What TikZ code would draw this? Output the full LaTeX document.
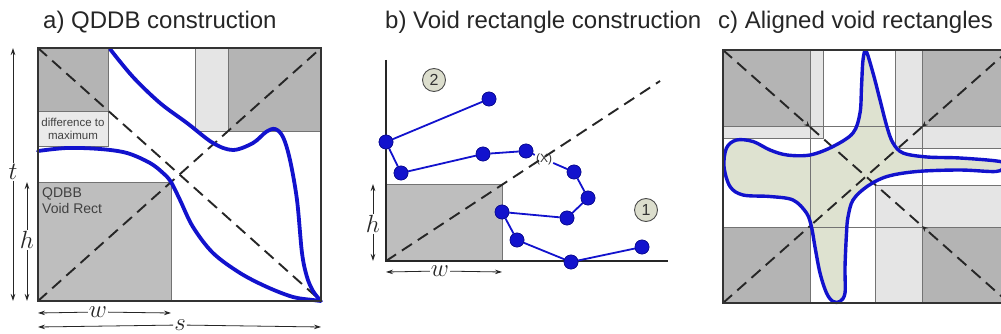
\documentclass[tikz,border=0pt]{standalone}
\usepackage{fontspec}
\setmainfont{Liberation Sans}
\usetikzlibrary{arrows.meta}
\definecolor{dg}{RGB}{180,180,180}
\definecolor{qd}{RGB}{190,190,190}
\definecolor{lg}{RGB}{229,229,229}
\definecolor{cb}{RGB}{18,18,205}
\definecolor{blobc}{RGB}{222,226,208}
\definecolor{circc}{RGB}{220,222,205}
\begin{document}
\begin{tikzpicture}[x=1pt,y=-1pt,
  title/.style={anchor=base west,font=\fontsize{24}{28}\selectfont,text=black!85,inner sep=0pt},
  frame/.style={draw=black!80,line width=2pt},
  cell/.style={draw=black!55,line width=0.8pt},
  diag/.style={dash pattern=on 12pt off 7pt,line width=1.9pt,draw=black!85},
  curve/.style={draw=cb,line width=3.8pt,line cap=round,line join=round},
  dimarrow/.style={-{Stealth[length=7pt,width=4.5pt]},line width=0.8pt,draw=black!85},
  mathlab/.style={font=\fontsize{24}{24}\selectfont,inner sep=1pt,text=black!85},
  dot/.style={circle,draw=cb!70!black,fill=cb,minimum size=14pt,inner sep=0pt,line width=0.6pt},
  link/.style={draw=cb,line width=1.8pt},
  numc/.style={circle,draw=black!70,fill=circc,minimum size=23pt,inner sep=0pt,line width=0.9pt,font=\fontsize{16}{16}\selectfont,text=black!80},
  smalltxt/.style={font=\fontsize{11.5}{13}\selectfont,text=black!75,align=center,inner sep=0pt},
]
\useasboundingbox[fill=white] (0,0) rectangle (1001,334);

% ---------------- titles
\node[title] (ta) at (43,29) {a) QDDB construction};
\node[title] (tb) at (385,29) {b) Void rectangle construction};
\node[title] (tc) at (718,29) {c) Aligned void rectangles};

% ---------------- panel a
\fill[dg] (38,48) rectangle (108,111);
\fill[lg] (195,48) rectangle (228,131);
\fill[dg] (228,48) rectangle (321,131);
\fill[qd] (38,182) rectangle (171,301);
\node[draw=black!55,line width=0.8pt,fill=lg!80!white,minimum width=70pt,minimum height=35pt,inner sep=0pt] (diffbox) at (73,128.5) {};
\node[smalltxt] (difftxt) at (73,129) {difference to\\maximum};
\draw[cell] (38,111) -- (108,111) -- (108,48);
\draw[cell] (195,48) -- (195,131) -- (321,131);
\draw[cell] (228,48) -- (228,131);
\draw[cell] (38,182) -- (171,182) -- (171,301);
\node[anchor=north west,font=\fontsize{14}{16}\selectfont,text=black!75,align=left,inner sep=0pt] (qdbb) at (42,188) {QDBB\\Void Rect};
\draw[diag] (38,48) -- (321,301);
\draw[diag] (38,301) -- (321,48);
\draw[curve] plot[smooth,tension=0.55] coordinates {(110,49) (133,77) (160,103) (187,123) (213,143) (233,150) (253,143) (266,132) (275,129) (283,137) (290,160) (297,200) (302,253) (307,277) (313,291) (320,300)};
\draw[curve] plot[smooth,tension=0.55] coordinates {(38,151) (67,148) (100,149) (127,153) (150,163) (163,173) (171,182) (180,200) (193,227) (213,253) (240,273) (267,287) (293,297) (313,300) (321,301)};
\draw[frame] (38,48) rectangle (321,301);
% dimensions a
\node[mathlab] (ta_t) at (13,172) {$t$};
\coordinate (ta_top) at (13,48);
\coordinate (ta_bot) at (13,301);
\draw[dimarrow] (ta_t) -- (ta_top);
\draw[dimarrow] (ta_t) -- (ta_bot);
\node[mathlab] (ta_h) at (27,240) {$h$};
\coordinate (ha_top) at (27,182);
\coordinate (ha_bot) at (27,301);
\draw[dimarrow] (ta_h) -- (ha_top);
\draw[dimarrow] (ta_h) -- (ha_bot);
\node[mathlab] (ta_w) at (98,312) {$w$};
\coordinate (wa_l) at (38,313);
\coordinate (wa_r) at (171,313);
\draw[dimarrow] (ta_w) -- (wa_l);
\draw[dimarrow] (ta_w) -- (wa_r);
\node[mathlab] (ta_s) at (180,325) {$s$};
\coordinate (sa_l) at (38,327);
\coordinate (sa_r) at (321,327);
\draw[dimarrow] (ta_s) -- (sa_l);
\draw[dimarrow] (ta_s) -- (sa_r);

% ---------------- panel b
\fill[qd] (386,184) rectangle (502,261);
\draw[cell] (386,184) -- (502,184) -- (502,261);
\draw[diag] (386,261) -- (660,81);
\draw[line width=2pt,draw=black!85] (386,60) -- (386,261) -- (668,261);
\node[mathlab] (tb_h) at (373,224) {$h$};
\coordinate (hb_top) at (373,184);
\coordinate (hb_bot) at (373,261);
\draw[dimarrow] (tb_h) -- (hb_top);
\draw[dimarrow] (tb_h) -- (hb_bot);
\node[mathlab] (tb_w) at (440,271) {$w$};
\coordinate (wb_l) at (386,272);
\coordinate (wb_r) at (502,272);
\draw[dimarrow] (tb_w) -- (wb_l);
\draw[dimarrow] (tb_w) -- (wb_r);
\node[numc] (n2) at (434,80) {2};
\node[numc] (n1) at (646,210) {1};
\node[font=\fontsize{12}{12}\selectfont,text=black!80,inner sep=1pt] (X) at (544,159) {(X)};
\node[dot] (A) at (489,99) {};
\node[dot] (B) at (386,142) {};
\node[dot] (C) at (401,173) {};
\node[dot] (D) at (483,154) {};
\node[dot] (E) at (526,151) {};
\node[dot] (F) at (574,172) {};
\node[dot] (G) at (588,198) {};
\node[dot] (H) at (567,218) {};
\node[dot] (I) at (502,212) {};
\node[dot] (J) at (517,240) {};
\node[dot] (K) at (571,262) {};
\node[dot] (L) at (642,247) {};
\draw[link] (A) -- (B) -- (C) -- (D) -- (E) -- (X) -- (F) -- (G) -- (H) -- (I) -- (J) -- (K) -- (L);
\foreach \p in {A,B,C,D,E,F,G,H,I,J,K,L} \node[dot] at (\p) {};

% ---------------- panel c
\fill[lg] (723,50) rectangle (823,138);
\fill[dg] (723,50) rectangle (810,126.5);
\fill[lg] (895,50) rectangle (1009,148);
\fill[dg] (922,50) rectangle (1009,126.5);
\fill[lg] (875,185) rectangle (1009,303);
\fill[dg] (922,227) rectangle (1009,303);
\fill[dg] (723,227) rectangle (810,303);
\fill[blobc] plot[smooth cycle,tension=0.55] coordinates {(866,51) (873,73) (880,100) (887,127) (893,143) (903,153) (927,157) (960,158) (1000,161.5) (1004,166.5) (996,171.5) (960,170) (917,171.5) (887,176.5) (867,186.5) (853,200) (848,217) (846.5,233) (845,267) (845,293) (840,301.5) (833,301.5) (826.5,293) (820,273) (815,247) (811.5,227) (806.5,213) (793,200) (770,196.5) (743,195) (730,186.5) (724,166.5) (726.5,148) (736.5,140) (753,141.5) (770,150) (787,155) (810,155) (833,146.5) (853,133) (860,113) (861.5,87) (863,60)};
\draw[cell] (810,50) -- (810,303);
\draw[cell] (922,50) -- (922,303);
\draw[cell] (723,126.5) -- (1009,126.5);
\draw[cell] (723,227) -- (1009,227);
\draw[cell] (823,50) -- (823,138) -- (723,138);
\draw[cell] (895,50) -- (895,148) -- (1009,148);
\draw[cell] (875,303) -- (875,185) -- (1009,185);
\coordinate (ctl) at (723,50);
\coordinate (ctr) at (1009,50);
\coordinate (cbl) at (723,303);
\coordinate (cbr) at (1009,303);
\coordinate (cc) at (866,176.5);
\coordinate (dtl) at (810,127);
\coordinate (dtr) at (922,127);
\coordinate (dbl) at (810,226);
\coordinate (dbr) at (922,226);
\draw[diag,-{Stealth[length=6pt,width=5pt]}] (ctl) -- (dtl);
\draw[diag,-{Stealth[length=6pt,width=5pt]}] (ctr) -- (dtr);
\draw[diag,-{Stealth[length=6pt,width=5pt]}] (cbr) -- (dbr);
\draw[diag] (cbl) -- (dbl);
\draw[diag] (dtl) -- (cc) -- (dbr);
\draw[diag] (dtr) -- (cc) -- (dbl);
\draw[draw=cb,line width=3.4pt,line join=round] plot[smooth cycle,tension=0.55] coordinates {(866,51) (873,73) (880,100) (887,127) (893,143) (903,153) (927,157) (960,158) (1000,161.5) (1004,166.5) (996,171.5) (960,170) (917,171.5) (887,176.5) (867,186.5) (853,200) (848,217) (846.5,233) (845,267) (845,293) (840,301.5) (833,301.5) (826.5,293) (820,273) (815,247) (811.5,227) (806.5,213) (793,200) (770,196.5) (743,195) (730,186.5) (724,166.5) (726.5,148) (736.5,140) (753,141.5) (770,150) (787,155) (810,155) (833,146.5) (853,133) (860,113) (861.5,87) (863,60)};
\draw[frame] (723,50) rectangle (1009,303);
\end{tikzpicture}
\end{document}
